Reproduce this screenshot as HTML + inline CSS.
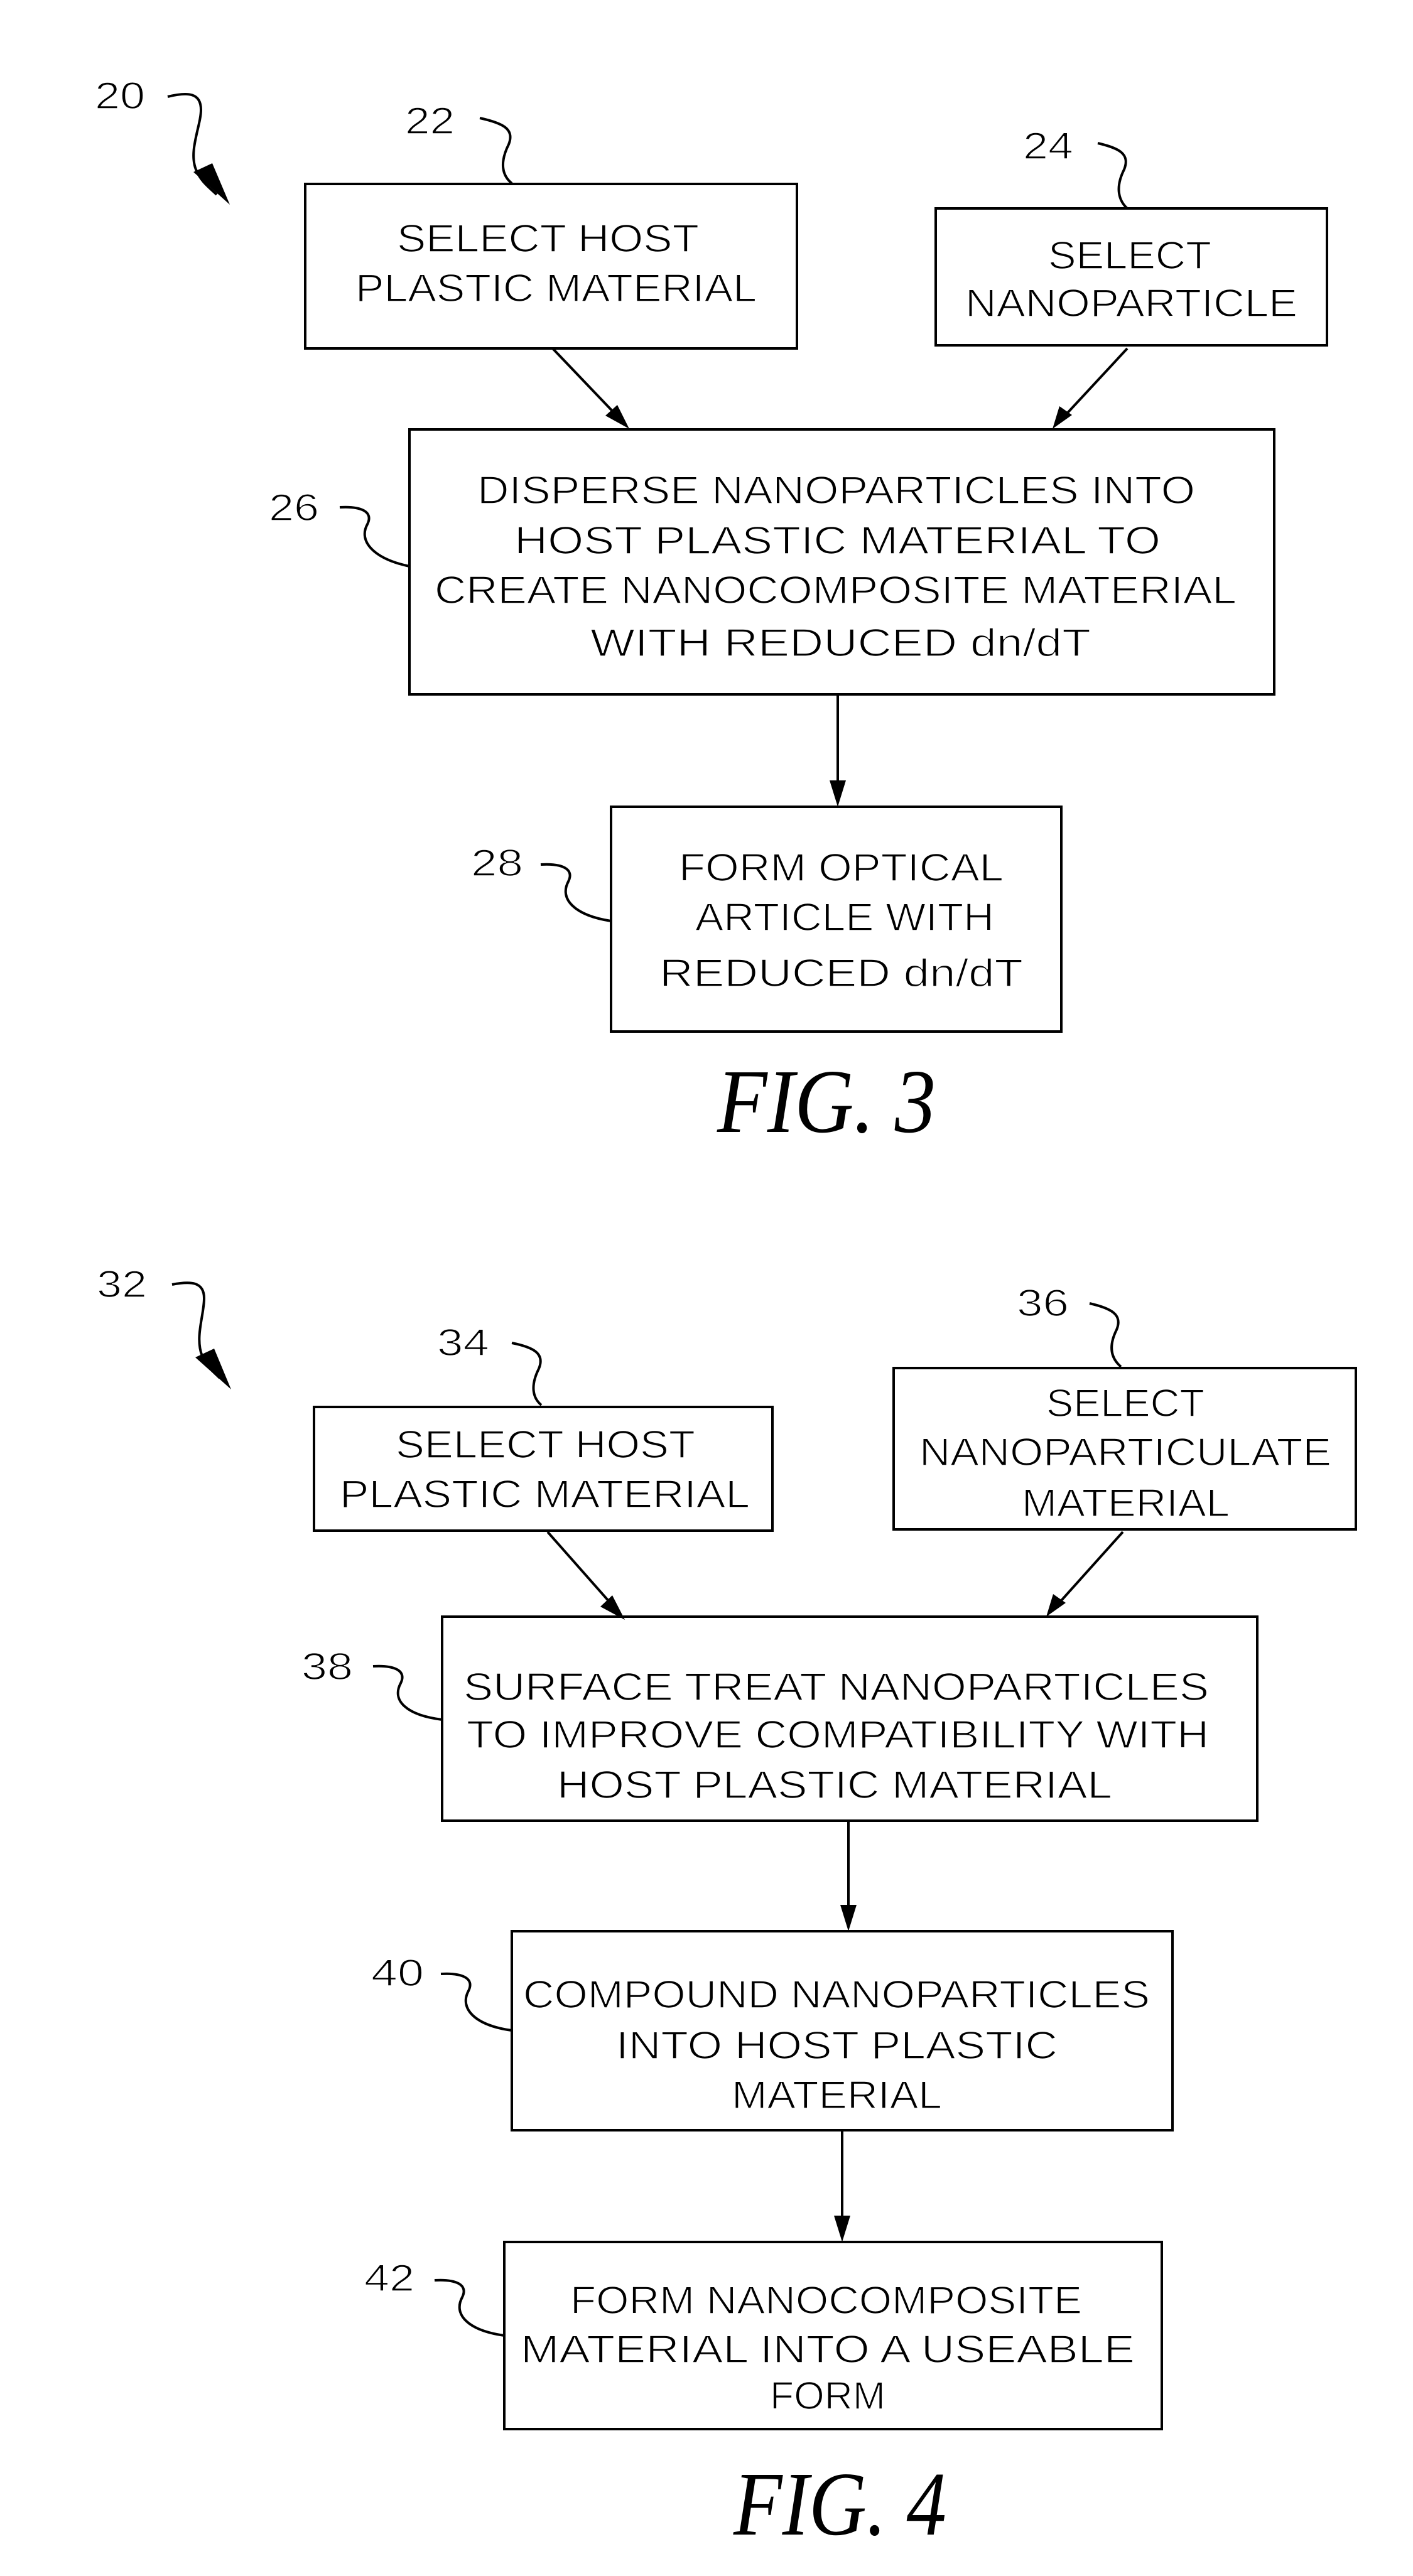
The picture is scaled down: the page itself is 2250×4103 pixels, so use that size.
<!DOCTYPE html>
<html><head><meta charset="utf-8"><style>
html,body{margin:0;padding:0;background:#fff}
svg{display:block}
text{font-family:"Liberation Sans",sans-serif;fill:#000;stroke:#fff;stroke-width:1.6px}
.b{font-size:62px}
.l{font-size:60px}
.f{font-family:"Liberation Serif",serif;font-style:italic;font-size:145px;stroke:none}
.s{fill:none;stroke:#000;stroke-width:4}
</style></head><body>
<svg width="2250" height="4103" viewBox="0 0 2250 4103" xmlns="http://www.w3.org/2000/svg">
<g class="s">
<rect x="486" y="293" width="783" height="262"/>
<rect x="1490" y="332" width="623" height="218"/>
<rect x="652" y="684" width="1377" height="422"/>
<rect x="973" y="1285" width="717" height="358"/>
<rect x="500" y="2241" width="730" height="197"/>
<rect x="1423" y="2179" width="736" height="257"/>
<rect x="704" y="2575" width="1298" height="325"/>
<rect x="815" y="3076" width="1052" height="317"/>
<rect x="803" y="3571" width="1047" height="298"/>
<line x1="880" y1="555" x2="985" y2="665"/>
<line x1="1795" y1="555" x2="1693" y2="665"/>
<line x1="1334" y1="1106" x2="1334" y2="1250"/>
<line x1="872" y1="2440" x2="978" y2="2560"/>
<line x1="1788" y1="2440" x2="1683" y2="2557"/>
<line x1="1351" y1="2900" x2="1351" y2="3040"/>
<line x1="1341" y1="3393" x2="1341" y2="3535"/>
<path d="M267,154 C300,146 320,148 320,175 C320,200 300,240 312,270 C320,290 335,300 345,310"/>
<path d="M764,188 C800,196 820,205 810,230 C795,260 800,280 815,292"/>
<path d="M1748,228 C1782,236 1800,245 1790,270 C1775,300 1782,320 1795,332"/>
<path d="M541,808 C575,806 595,815 585,835 C570,862 595,890 652,902"/>
<path d="M861,1377 C895,1375 915,1384 905,1404 C890,1432 915,1458 973,1467"/>
<path d="M274,2046 C305,2040 325,2042 325,2068 C325,2095 310,2130 322,2160 C330,2178 340,2185 350,2195"/>
<path d="M815,2139 C850,2146 868,2156 858,2180 C843,2210 850,2228 862,2238"/>
<path d="M1735,2076 C1770,2084 1788,2094 1778,2118 C1763,2148 1772,2166 1785,2177"/>
<path d="M594,2654 C628,2652 648,2661 638,2681 C623,2709 648,2732 704,2739"/>
<path d="M702,3144 C736,3142 756,3151 746,3171 C731,3199 756,3226 815,3234"/>
<path d="M692,3632 C726,3630 746,3639 736,3659 C721,3687 746,3712 803,3720"/>
</g>
<g fill="#000">
<polygon points="1002,683 964,662 983,645"/>
<polygon points="1676,683 1687,647 1707,661"/>
<polygon points="1334,1285 1321,1243 1347,1243"/>
<polygon points="995,2580 956,2559 975,2541"/>
<polygon points="1666,2575 1677,2539 1697,2553"/>
<polygon points="1351,3076 1338,3034 1364,3034"/>
<polygon points="1341,3571 1328,3529 1354,3529"/>
<polygon points="366,326 308,274 338,260"/>
<polygon points="368,2213 311,2162 341,2148"/>
</g>
<text class="l" x="151" y="173" textLength="80" lengthAdjust="spacingAndGlyphs">20</text>
<text class="l" x="645" y="213" textLength="79" lengthAdjust="spacingAndGlyphs">22</text>
<text class="l" x="1629" y="253" textLength="80" lengthAdjust="spacingAndGlyphs">24</text>
<text class="l" x="428" y="829" textLength="80" lengthAdjust="spacingAndGlyphs">26</text>
<text class="l" x="750" y="1395" textLength="83" lengthAdjust="spacingAndGlyphs">28</text>
<text class="l" x="154" y="2066" textLength="80" lengthAdjust="spacingAndGlyphs">32</text>
<text class="l" x="696" y="2159" textLength="83" lengthAdjust="spacingAndGlyphs">34</text>
<text class="l" x="1619" y="2096" textLength="83" lengthAdjust="spacingAndGlyphs">36</text>
<text class="l" x="480" y="2675" textLength="82" lengthAdjust="spacingAndGlyphs">38</text>
<text class="l" x="591" y="3163" textLength="84" lengthAdjust="spacingAndGlyphs">40</text>
<text class="l" x="580" y="3649" textLength="80" lengthAdjust="spacingAndGlyphs">42</text>
<text class="b" x="632" y="401" textLength="481" lengthAdjust="spacingAndGlyphs">SELECT HOST</text>
<text class="b" x="566" y="480" textLength="639" lengthAdjust="spacingAndGlyphs">PLASTIC MATERIAL</text>
<text class="b" x="1669" y="428" textLength="260" lengthAdjust="spacingAndGlyphs">SELECT</text>
<text class="b" x="1537" y="504" textLength="529" lengthAdjust="spacingAndGlyphs">NANOPARTICLE</text>
<text class="b" x="760" y="802" textLength="1143" lengthAdjust="spacingAndGlyphs">DISPERSE NANOPARTICLES INTO</text>
<text class="b" x="819" y="882" textLength="1029" lengthAdjust="spacingAndGlyphs">HOST PLASTIC MATERIAL TO</text>
<text class="b" x="692" y="961" textLength="1277" lengthAdjust="spacingAndGlyphs">CREATE NANOCOMPOSITE MATERIAL</text>
<text class="b" x="940" y="1045" textLength="797" lengthAdjust="spacingAndGlyphs">WITH REDUCED dn/dT</text>
<text class="b" x="1081" y="1403" textLength="517" lengthAdjust="spacingAndGlyphs">FORM OPTICAL</text>
<text class="b" x="1107" y="1482" textLength="476" lengthAdjust="spacingAndGlyphs">ARTICLE WITH</text>
<text class="b" x="1050" y="1571" textLength="579" lengthAdjust="spacingAndGlyphs">REDUCED dn/dT</text>
<text class="f" x="1142" y="1803" textLength="348" lengthAdjust="spacingAndGlyphs">FIG. 3</text>
<text class="b" x="630" y="2322" textLength="477" lengthAdjust="spacingAndGlyphs">SELECT HOST</text>
<text class="b" x="541" y="2401" textLength="653" lengthAdjust="spacingAndGlyphs">PLASTIC MATERIAL</text>
<text class="b" x="1666" y="2256" textLength="252" lengthAdjust="spacingAndGlyphs">SELECT</text>
<text class="b" x="1464" y="2334" textLength="656" lengthAdjust="spacingAndGlyphs">NANOPARTICULATE</text>
<text class="b" x="1627" y="2415" textLength="331" lengthAdjust="spacingAndGlyphs">MATERIAL</text>
<text class="b" x="738" y="2708" textLength="1187" lengthAdjust="spacingAndGlyphs">SURFACE TREAT NANOPARTICLES</text>
<text class="b" x="743" y="2784" textLength="1182" lengthAdjust="spacingAndGlyphs">TO IMPROVE COMPATIBILITY WITH</text>
<text class="b" x="887" y="2864" textLength="884" lengthAdjust="spacingAndGlyphs">HOST PLASTIC MATERIAL</text>
<text class="b" x="833" y="3198" textLength="998" lengthAdjust="spacingAndGlyphs">COMPOUND NANOPARTICLES</text>
<text class="b" x="981" y="3279" textLength="703" lengthAdjust="spacingAndGlyphs">INTO HOST PLASTIC</text>
<text class="b" x="1165" y="3358" textLength="335" lengthAdjust="spacingAndGlyphs">MATERIAL</text>
<text class="b" x="908" y="3685" textLength="815" lengthAdjust="spacingAndGlyphs">FORM NANOCOMPOSITE</text>
<text class="b" x="829" y="3763" textLength="978" lengthAdjust="spacingAndGlyphs">MATERIAL INTO A USEABLE</text>
<text class="b" x="1226" y="3837" textLength="184" lengthAdjust="spacingAndGlyphs">FORM</text>
<text class="f" x="1168" y="4037" textLength="339" lengthAdjust="spacingAndGlyphs">FIG. 4</text>
</svg>
</body></html>
